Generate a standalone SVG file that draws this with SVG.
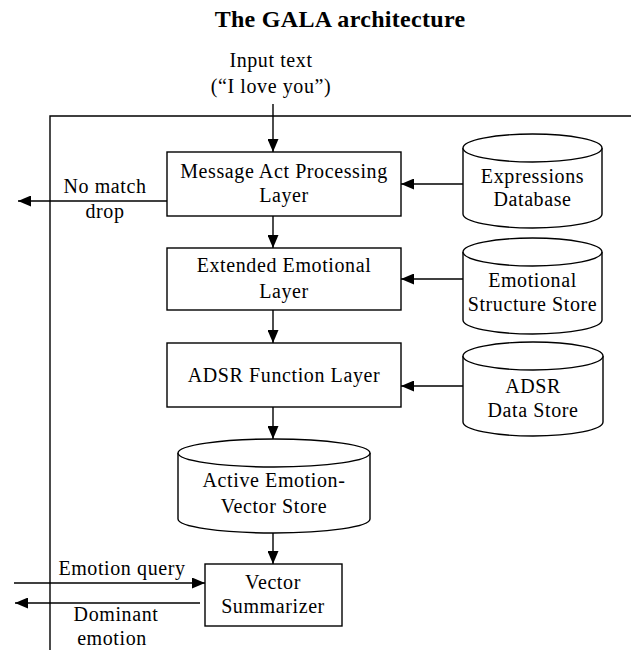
<svg xmlns="http://www.w3.org/2000/svg" width="631" height="650" viewBox="0 0 631 650">
<style>
  .t{font-family:"Liberation Serif","Times New Roman",serif;font-size:20px;fill:#000;text-anchor:middle;letter-spacing:0.6px}
  .title{font-family:"Liberation Serif","Times New Roman",serif;font-size:24px;font-weight:bold;fill:#000;text-anchor:middle;letter-spacing:0.3px}
  .box{fill:#fff;stroke:#000;stroke-width:1.4}
  .cyl{fill:#fff;stroke:#000;stroke-width:1.4}
  .ln{fill:none;stroke:#000;stroke-width:1.4}
  .arr{fill:none;stroke:#000;stroke-width:1.4;marker-end:url(#ah)}
</style>
<defs>
  <marker id="ah" markerUnits="userSpaceOnUse" markerWidth="13" markerHeight="11" refX="13" refY="5.5" orient="auto">
    <path d="M0,0 L13,5.5 L0,11 z" fill="#000"/>
  </marker>
</defs>
<rect width="631" height="650" fill="#fff"/>
<text class="title" x="340" y="27">The GALA architecture</text>
<g id="input">
  <text class="t" x="271" y="67">Input text</text>
  <text class="t" x="271" y="93">(“I love you”)</text>
</g>
<g id="connectors">
  <path class="ln" d="M631,116 L50,116 L50,650"/>
  <path class="arr" d="M273,104 L273,152"/>
  <path class="arr" d="M273,216 L273,248"/>
  <path class="arr" d="M273,310 L273,343"/>
  <path class="arr" d="M273,407 L273,439"/>
  <path class="arr" d="M273,533 L273,564"/>
  <path class="arr" d="M463,184 L401,184"/>
  <path class="arr" d="M463,279 L401,279"/>
  <path class="arr" d="M463,386 L401,386"/>
  <path class="arr" d="M167,201 L18,201"/>
  <path class="arr" d="M14,583 L205,583"/>
  <path class="arr" d="M200,603 L15,603"/>
  <text class="t" x="105" y="193">No match</text>
  <text class="t" x="105" y="218">drop</text>
  <text class="t" x="122" y="575">Emotion query</text>
  <text class="t" x="116" y="621">Dominant</text>
  <text class="t" x="112" y="645">emotion</text>
</g>
<g id="msgact">
  <rect class="box" x="167" y="152" width="234" height="64"/>
  <text class="t" x="284" y="178">Message Act Processing</text>
  <text class="t" x="284" y="202">Layer</text>
</g>
<g id="extemo">
  <rect class="box" x="167" y="248" width="234" height="62"/>
  <text class="t" x="284" y="272">Extended Emotional</text>
  <text class="t" x="284" y="298">Layer</text>
</g>
<g id="adsr">
  <rect class="box" x="167" y="343" width="234" height="64"/>
  <text class="t" x="284" y="382">ADSR Function Layer</text>
</g>
<g id="exprdb">
  <path class="cyl" d="M463,148 L463,214 A69.5,14 0 0 0 602,214 L602,148"/>
  <ellipse class="cyl" cx="532.5" cy="148" rx="69.5" ry="14"/>
  <text class="t" x="532.5" y="183">Expressions</text>
  <text class="t" x="532.5" y="206">Database</text>
</g>
<g id="emostruct">
  <path class="cyl" d="M463,252 L463,320 A69.5,14 0 0 0 602,320 L602,252"/>
  <ellipse class="cyl" cx="532.5" cy="252" rx="69.5" ry="14"/>
  <text class="t" x="532.5" y="287">Emotional</text>
  <text class="t" x="532.5" y="311">Structure Store</text>
</g>
<g id="adsrstore">
  <path class="cyl" d="M463,356 L463,422 A70,14 0 0 0 603,422 L603,356"/>
  <ellipse class="cyl" cx="533" cy="356" rx="70" ry="14"/>
  <text class="t" x="533" y="393">ADSR</text>
  <text class="t" x="533" y="417">Data Store</text>
</g>
<g id="activestore">
  <path class="cyl" d="M178,453 L178,519 A96,14 0 0 0 370,519 L370,453"/>
  <ellipse class="cyl" cx="274" cy="453" rx="96" ry="14"/>
  <text class="t" x="274" y="487">Active Emotion-</text>
  <text class="t" x="274" y="513">Vector Store</text>
</g>
<g id="summarizer">
  <rect class="box" x="205" y="564" width="137" height="62"/>
  <text class="t" x="273" y="589">Vector</text>
  <text class="t" x="273" y="613">Summarizer</text>
</g>
</svg>
